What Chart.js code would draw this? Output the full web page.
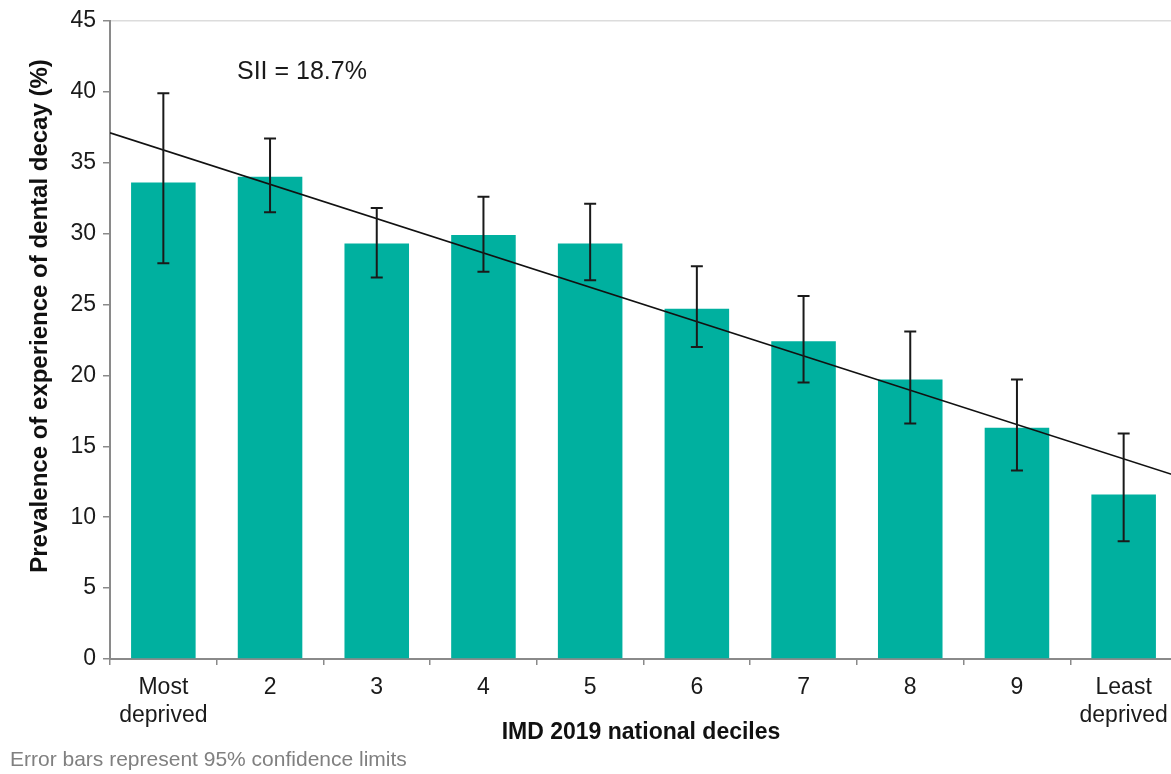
<!DOCTYPE html>
<html>
<head>
<meta charset="utf-8">
<script src="https://cdn.jsdelivr.net/npm/chart.js@4/dist/chart.umd.min.js"></script>
<style>
  html, body { margin: 0; padding: 0; background: #fff; overflow: hidden; }
  #wrap { width: 1171px; height: 774px; overflow: hidden; }
</style>
</head>
<body>
<div id="wrap"><canvas id="chart" width="1178" height="774"></canvas></div>
<script>
// --- data ---
const deciles = [["Most", "deprived"], "2", "3", "4", "5", "6", "7", "8", "9", ["Least", "deprived"]];
const prevalence = [33.6, 34.0, 29.3, 29.9, 29.3, 24.7, 22.4, 19.7, 16.3, 11.6];
const lowerCL = [27.9, 31.5, 26.9, 27.3, 26.7, 22.0, 19.5, 16.6, 13.3, 8.3];
const upperCL = [39.9, 36.7, 31.8, 32.6, 32.1, 27.7, 25.6, 23.1, 19.7, 15.9];
// SII regression line, from left edge (0) to right edge (10) of the x range
const trendX = [0, 10];
const trendY = [37.1, 12.9];
const siiLabel = "SII = 18.7%";

const FONT = "'Liberation Sans', Arial, sans-serif";
const BAR_COLOUR = "#00b09f";
const AXIS_GREY = "#8a8a8a";

// --- error bars + extra texts ---
const extras = {
  id: "extras",
  afterDatasetsDraw(chart) {
    const { ctx } = chart;
    const x = chart.scales.x;
    const y = chart.scales.y;
    ctx.save();
    ctx.strokeStyle = "#1a1a1a";
    ctx.lineWidth = 2;
    prevalence.forEach((_, i) => {
      const px = x.getPixelForValue(i);
      const top = y.getPixelForValue(upperCL[i]);
      const bot = y.getPixelForValue(lowerCL[i]);
      ctx.beginPath();
      ctx.moveTo(px, top);
      ctx.lineTo(px, bot);
      ctx.moveTo(px - 6, top);
      ctx.lineTo(px + 6, top);
      ctx.moveTo(px - 6, bot);
      ctx.lineTo(px + 6, bot);
      ctx.stroke();
    });
    ctx.restore();
  },
  afterDraw(chart) {
    const { ctx } = chart;
    ctx.save();
    // y title (sits a bit above the plot centre in the original)
    ctx.fillStyle = "#111";
    ctx.font = `bold 24px ${FONT}`;
    ctx.textAlign = "center";
    ctx.textBaseline = "middle";
    ctx.translate(40, 316);
    ctx.rotate(-Math.PI / 2);
    ctx.fillText("Prevalence of experience of dental decay (%)", 0, 0);
    ctx.restore();

    ctx.save();
    ctx.fillStyle = "#111";
    ctx.font = `bold 23px ${FONT}`;
    ctx.textAlign = "center";
    ctx.textBaseline = "middle";
    ctx.fillText("IMD 2019 national deciles", 641, 733);

    ctx.font = `25px ${FONT}`;
    ctx.textAlign = "left";
    ctx.fillStyle = "#1a1a1a";
    ctx.fillText(siiLabel, 237, 72);

    ctx.font = `21px ${FONT}`;
    ctx.fillStyle = "#808080";
    ctx.fillText("Error bars represent 95% confidence limits", 10, 760);
    ctx.restore();
  },
};

new Chart(document.getElementById("chart"), {
  data: {
    labels: deciles,
    datasets: [
      {
        type: "line",
        data: trendX.map((v, i) => ({ x: v, y: trendY[i] })),
        xAxisID: "xLine",
        borderColor: "#111",
        borderWidth: 1.6,
        pointRadius: 0,
        fill: false,
        order: 0,
      },
      {
        type: "bar",
        data: prevalence,
        xAxisID: "x",
        backgroundColor: BAR_COLOUR,
        grouped: false,
        barPercentage: 0.605,
        categoryPercentage: 1,
        order: 1,
      },
    ],
  },
  plugins: [extras],
  options: {
    responsive: false,
    animation: false,
    devicePixelRatio: 1,
    layout: { padding: { top: 17, right: 1, left: 0, bottom: 0 } },
    plugins: {
      legend: { display: false },
      tooltip: { enabled: false },
    },
    scales: {
      x: {
        type: "category",
        offset: true,
        afterFit: (s) => { s.height = 115; },
        grid: {
          offset: true,
          color: "transparent",
          tickColor: AXIS_GREY,
          tickLength: 6,
          lineWidth: 1.5,
        },
        border: { display: true, color: AXIS_GREY, width: 2 },
        ticks: {
          color: "#1a1a1a",
          font: { family: FONT, size: 23, lineHeight: 1.2 },
          padding: 9,
          maxRotation: 0,
          autoSkip: false,
        },
      },
      xLine: {
        type: "linear",
        display: false,
        min: 0,
        max: 10,
      },
      y: {
        min: 0,
        max: 45,
        afterFit: (s) => { s.width = 110; },
        ticks: {
          stepSize: 5,
          color: "#1a1a1a",
          font: { family: FONT, size: 23 },
          padding: 7,
        },
        grid: {
          color: (c) => (c.tick && c.tick.value === 45 ? "#dcdcdc" : "transparent"),
          tickColor: AXIS_GREY,
          tickLength: 7,
          lineWidth: 1.5,
        },
        border: { display: true, color: AXIS_GREY, width: 2 },
      },
    },
  },
});
</script>
</body>
</html>
